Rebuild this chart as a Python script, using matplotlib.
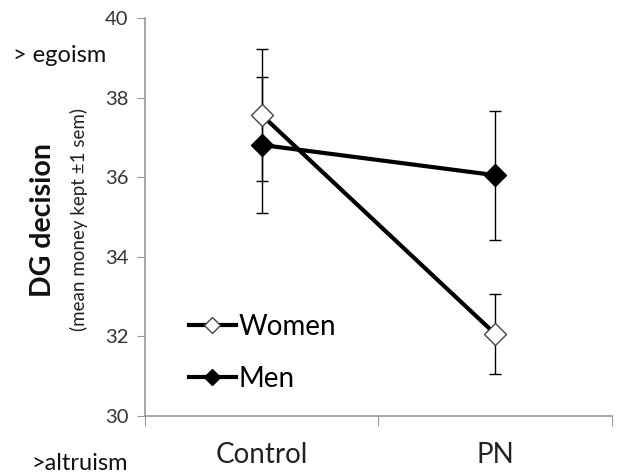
import matplotlib
matplotlib.use("Agg")
from matplotlib import pyplot as plt

conditions = ["Control", "PN"]
women = [37.56, 32.06]
women_sem = [1.65, 1.0]
men = [36.81, 36.05]
men_sem = [1.71, 1.62]

plt.rcParams['font.family'] = ['Lato', 'DejaVu Sans']

fig = plt.figure(figsize=(6.21, 4.75), dpi=100)
ax = fig.add_axes([0.2335, 0.1242, 0.752, 0.838])

xpos = [0.5, 1.5]
ax.errorbar(xpos, women, yerr=women_sem, fmt='none', ecolor='black', elinewidth=1, capsize=4, capthick=1, zorder=2)
ax.errorbar(xpos, men, yerr=men_sem, fmt='none', ecolor='black', elinewidth=1, capsize=4, capthick=1, zorder=2)
ax.plot(xpos, women, c='black', lw=3, marker='D', markersize=11.5, markerfacecolor='white',
        markeredgecolor='#444444', markeredgewidth=1, label='Women', zorder=3)
ax.plot(xpos, men, c='black', lw=3, marker='D', markersize=11.5, markerfacecolor='black',
        markeredgecolor='black', label='Men', zorder=3)

ax.set_xlim(0, 2)
ax.set_ylim(30, 40)
ax.set_yticks([30, 32, 34, 36, 38, 40])
ax.set_xticks([0, 1, 2])
ax.set_xticklabels([])
ax.set_xticks(xpos, minor=True)
ax.set_xticklabels(conditions, minor=True, fontsize=20, color='#222222')
ax.tick_params(axis='x', which='minor', length=0, pad=19)
ax.tick_params(axis='x', which='major', length=7, color='#999999', direction='out')
ax.tick_params(axis='y', length=6, color='#999999', labelsize=14.5, labelcolor='#333333', direction='out', pad=6)

for side in ['top', 'right']:
    ax.spines[side].set_visible(False)
for side in ['left', 'bottom']:
    ax.spines[side].set_color('#999999')
    ax.spines[side].set_linewidth(1.2)

leg = ax.legend(loc='upper left', bbox_to_anchor=(0.04, 0.32), frameon=False, fontsize=20,
                handlelength=1.7, handletextpad=0.1, labelspacing=0.95, markerscale=0.75)

fig.text(0.07, 0.537, "DG decision", rotation=90, fontsize=20.5, fontweight='bold', ha='center', va='center', color='#111111')
fig.text(0.127, 0.538, "(mean money kept \u00b11 sem)", rotation=90, fontsize=13.5, ha='center', va='center', color='#222222')
fig.text(0.021, 0.884, "> egoism", fontsize=17, ha='left', va='center', color='#111111')
fig.text(0.206, 0.025, ">altruism", fontsize=17, ha='right', va='center', color='#111111')

fig.savefig("out.png", dpi=100)
